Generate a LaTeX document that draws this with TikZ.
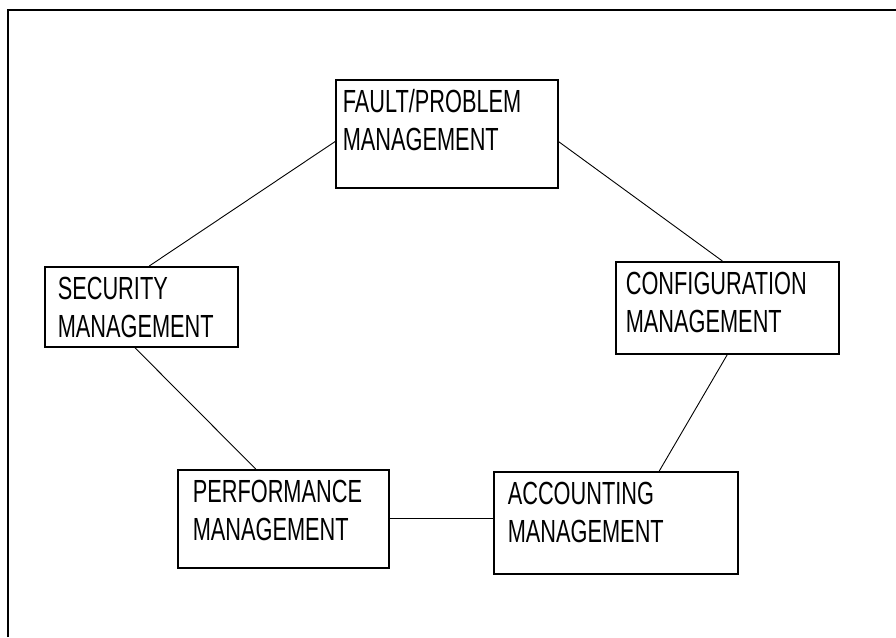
\documentclass[tikz,border=0pt]{standalone}
\usepackage{fontspec}
\setmainfont{Liberation Sans}[FakeStretch=0.68]
\usepackage{tikz}

\begin{document}
\begin{tikzpicture}[x=1pt,y=-1pt,
	mgmt/.style={draw,line width=1.6pt,anchor=north west,align=left,
		inner xsep=12pt,inner ysep=0pt,text height=33pt,
		font=\fontsize{32}{38}\selectfont},
	link/.style={line width=0.9pt}]
	\useasboundingbox (0,0) rectangle (896,637);
	\draw[line width=1.6pt] (8,637) -- (8,10) -- (896,10);

	\node[mgmt,inner xsep=7pt,text width=208pt,text depth=75pt] (fault) at (335,79) {FAULT/PROBLEM\\MANAGEMENT};
	\node[mgmt,inner xsep=13pt,text width=167pt,text depth=47pt] (secur) at (44,266) {SECURITY\\MANAGEMENT};
	\node[mgmt,inner xsep=10pt,text width=203pt,text depth=59pt] (config) at (615,261) {CONFIGURATION\\MANAGEMENT};
	\node[mgmt,inner xsep=15pt,text width=181pt,text depth=65pt] (perf) at (177,469) {PERFORMANCE\\MANAGEMENT};
	\node[mgmt,inner xsep=14pt,text width=216pt,text depth=69pt] (acct) at (493,471) {ACCOUNTING\\MANAGEMENT};

	\draw[link] (fault.184) -- (secur.79);
	\draw[link] (fault.356) -- (config.96);
	\draw[link] (secur.261) -- (perf.119);
	\draw[link] (config.south) -- (acct.50);
	\draw[link] (perf.east) -- (perf.east -| acct.west);
\end{tikzpicture}
\end{document}
